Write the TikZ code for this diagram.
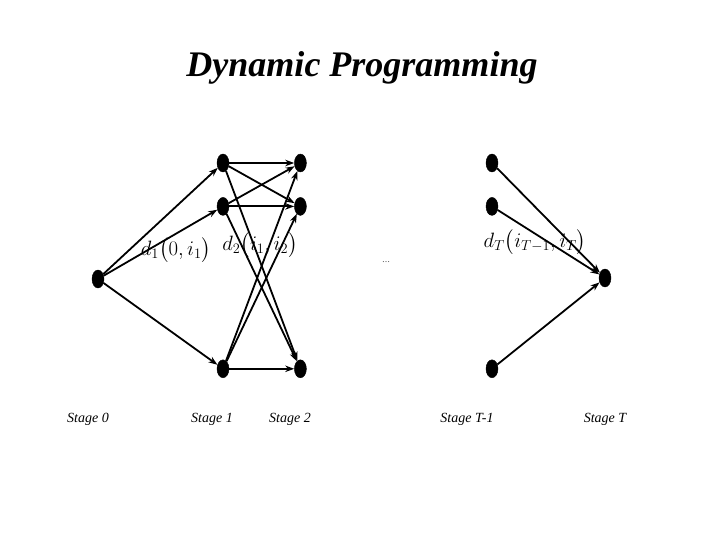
\documentclass[tikz,border=0pt]{standalone}
\usepackage{fontspec}
\setmainfont{Liberation Serif}
\usepackage{amsmath}
\usetikzlibrary{arrows.meta,positioning,shapes.geometric}

\begin{document}
\begin{tikzpicture}[x=1pt, y=-1pt, >={Stealth[length=9pt,width=6.5pt]}, node distance=25pt,
  stdot/.style={draw, fill=black, ellipse, minimum width=12pt, minimum height=18pt, inner sep=0pt},
  stlabel/.style={font=\fontsize{14}{16}\selectfont\itshape},
  cost/.style={font=\fontsize{21}{23}\selectfont},
  arc/.style={->, line width=1.8pt}]
  \useasboundingbox (0,0) rectangle (720,540);
  \node[font=\fontsize{36}{40}\selectfont\bfseries\itshape] (title) at (362,68) {Dynamic Programming};
  % stage 0
  \node[stdot] (s0) at (98,279) {};
  % stage 1
  \node[stdot] (a1) at (223,163) {};
  \node[stdot, below=of a1] (a2) {};
  \node[stdot, below=144pt of a2] (a3) {};
  % stage 2
  \node[stdot, right=65pt of a1] (b1) {};
  \node[stdot, right=65pt of a2] (b2) {};
  \node[stdot, right=65pt of a3] (b3) {};
  % stage T-1
  \node[stdot] (c1) at (492,163) {};
  \node[stdot, below=of c1] (c2) {};
  \node[stdot, below=144pt of c2] (c3) {};
  % stage T
  \node[stdot] (t) at (605,278) {};
  \foreach \n in {a1,a2,a3} \draw[arc] (s0) -- (\n);
  \foreach \m in {a1,a2,a3} \foreach \n in {b1,b2,b3} \draw[arc] (\m) -- (\n);
  \foreach \n in {c1,c2,c3} \draw[arc] (\n) -- (t);
  % costs
  \node[cost] (d1) at (176,250) {$d_1\bigl(0, i_1\bigr)$};
  \node[cost] (d2) at (260,245) {$d_2\bigl(i_1, i_2\bigr)$};
  \node[cost] (dT) at (535,242) {$d_T\bigl(i_{T-1}, i_T\bigr)$};
  \node[font=\fontsize{8}{9}\selectfont] (gap) at (386,262) {\ldots};
  % stage names
  \node[stlabel] (l0) at (88,419) {Stage 0};
  \node[stlabel] (l1) at (212,419) {Stage 1};
  \node[stlabel] (l2) at (290,419) {Stage 2};
  \node[stlabel] (lT1) at (467,419) {Stage T-1};
  \node[stlabel] (lT) at (605,419) {Stage T};
\end{tikzpicture}
\end{document}
